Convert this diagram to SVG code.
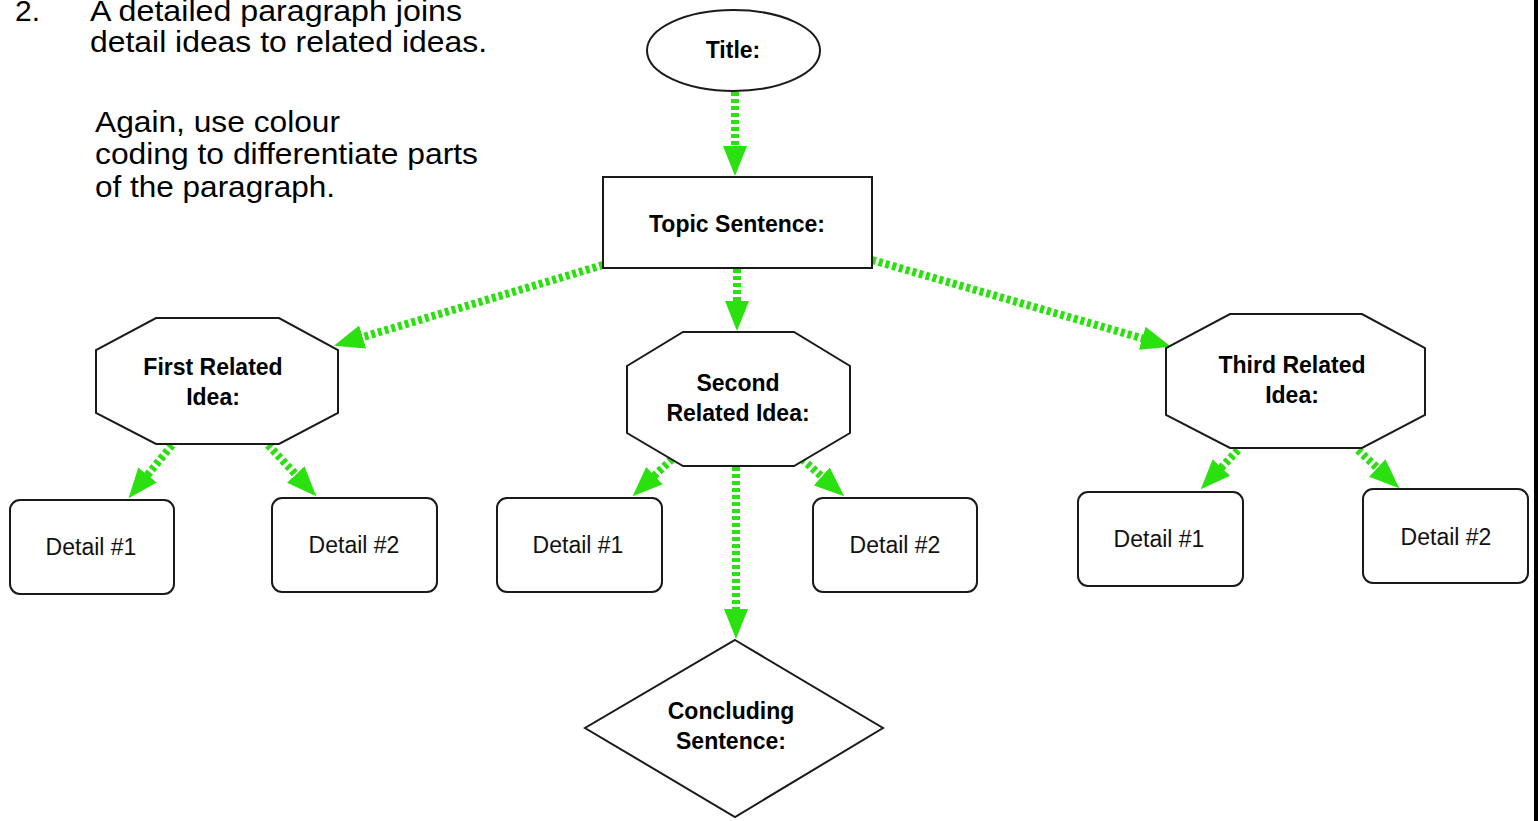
<svg xmlns="http://www.w3.org/2000/svg" width="1538" height="821" viewBox="0 0 1538 821">
<style>
.bg{fill:#ffffff}
.shape{fill:#ffffff;stroke:#1a1a1a;stroke-width:2}
.conn{fill:none;stroke:#2be00f;stroke-width:8;stroke-dasharray:4 3}
.lbl{font-family:"Liberation Sans",Arial,sans-serif;font-weight:bold;font-size:23px;fill:#000;text-anchor:middle}
.det{font-family:"Liberation Sans",Arial,sans-serif;font-size:23px;fill:#111;text-anchor:middle}
.note{font-family:"Liberation Sans",Arial,sans-serif;font-size:30px;fill:#000}
</style>
<defs>
<marker id="ah" markerUnits="userSpaceOnUse" markerWidth="32" markerHeight="26" refX="1" refY="12" orient="auto" viewBox="0 0 32 24">
<path d="M0,0 L30,12 L0,24 Z" fill="#2be00f"/>
</marker>
</defs>
<rect class="bg" x="0" y="0" width="1538" height="821"/>
<rect x="1534" y="0" width="4" height="821" fill="#000"/>

<g id="note">
<text class="note" x="15" y="21">2.</text>
<text class="note" x="90" y="21" textLength="372" lengthAdjust="spacingAndGlyphs">A detailed paragraph joins</text>
<text class="note" x="90" y="52" textLength="397" lengthAdjust="spacingAndGlyphs">detail ideas to related ideas.</text>
<text class="note" x="95" y="132" textLength="245" lengthAdjust="spacingAndGlyphs">Again, use colour</text>
<text class="note" x="95" y="164" textLength="383" lengthAdjust="spacingAndGlyphs">coding to differentiate parts</text>
<text class="note" x="95" y="197" textLength="240" lengthAdjust="spacingAndGlyphs">of the paragraph.</text>
</g>

<g id="connectors">
<line class="conn" x1="735" y1="92" x2="735" y2="147" marker-end="url(#ah)"/>
<line class="conn" x1="737" y1="269" x2="737" y2="302" marker-end="url(#ah)"/>
<line class="conn" x1="603" y1="265" x2="361.7" y2="337.4" marker-end="url(#ah)"/>
<line class="conn" x1="872" y1="260" x2="1143.2" y2="338.6" marker-end="url(#ah)"/>
<line class="conn" x1="172" y1="445" x2="146.9" y2="475.8" marker-end="url(#ah)"/>
<line class="conn" x1="268" y1="445" x2="296.4" y2="475.2" marker-end="url(#ah)"/>
<line class="conn" x1="672" y1="459" x2="653.7" y2="476.3" marker-end="url(#ah)"/>
<line class="conn" x1="802" y1="459" x2="822.5" y2="477.1" marker-end="url(#ah)"/>
<line class="conn" x1="736" y1="467" x2="736" y2="610" marker-end="url(#ah)"/>
<line class="conn" x1="1238" y1="450" x2="1220.7" y2="468.3" marker-end="url(#ah)"/>
<line class="conn" x1="1358" y1="450" x2="1378" y2="468.6" marker-end="url(#ah)"/>
</g>

<g id="title">
<ellipse class="shape" cx="733.5" cy="50.5" rx="86.5" ry="40.5"/>
<text class="lbl" x="733" y="58">Title:</text>
</g>
<g id="topic">
<rect class="shape" x="603" y="177" width="269" height="91"/>
<text class="lbl" x="737" y="232">Topic Sentence:</text>
</g>
<g id="first">
<polygon class="shape" points="156,318 279,318 338,350 338,413 279,444 156,444 96,413 96,350"/>
<text class="lbl" x="213" y="375">First Related</text>
<text class="lbl" x="213" y="405">Idea:</text>
</g>
<g id="second">
<polygon class="shape" points="683,332 794,332 850,366 850,433 794,466 683,466 627,433 627,366"/>
<text class="lbl" x="738" y="391">Second</text>
<text class="lbl" x="738" y="421">Related Idea:</text>
</g>
<g id="third">
<polygon class="shape" points="1230,314 1362,314 1425,348 1425,415 1362,448 1230,448 1166,415 1166,348"/>
<text class="lbl" x="1292" y="373">Third Related</text>
<text class="lbl" x="1292" y="403">Idea:</text>
</g>
<g id="first-d1">
<rect class="shape" x="10" y="500" width="164" height="94" rx="10"/>
<text class="det" x="91" y="555">Detail #1</text>
</g>
<g id="first-d2">
<rect class="shape" x="272" y="498" width="165" height="94" rx="10"/>
<text class="det" x="354" y="553">Detail #2</text>
</g>
<g id="second-d1">
<rect class="shape" x="497" y="498" width="165" height="94" rx="10"/>
<text class="det" x="578" y="553">Detail #1</text>
</g>
<g id="second-d2">
<rect class="shape" x="813" y="498" width="164" height="94" rx="10"/>
<text class="det" x="895" y="553">Detail #2</text>
</g>
<g id="third-d1">
<rect class="shape" x="1078" y="492" width="165" height="94" rx="10"/>
<text class="det" x="1159" y="547">Detail #1</text>
</g>
<g id="third-d2">
<rect class="shape" x="1363" y="489" width="165" height="94" rx="10"/>
<text class="det" x="1446" y="545">Detail #2</text>
</g>
<g id="concluding">
<polygon class="shape" points="735,640 883,728 735,817 585,728"/>
<text class="lbl" x="731" y="719">Concluding</text>
<text class="lbl" x="731" y="749">Sentence:</text>
</g>
</svg>
